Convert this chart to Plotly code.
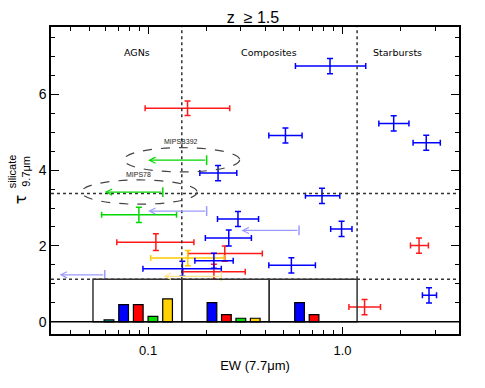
import numpy as np
import plotly.graph_objects as go

# ---------------- data ----------------
# detections: EW (7.7um), EW lower, EW upper, tau, tau error
blue_ew   = [0.863, 0.509, 1.836, 2.70, 0.785, 0.229, 0.290, 0.260, 0.990, 0.546, 0.218, 0.150, 2.79]
blue_lo   = [0.573, 0.418, 1.540, 2.31, 0.645, 0.1845, 0.2275, 0.197, 0.870, 0.418, 0.174, 0.094, 2.58]
blue_hi   = [1.318, 0.620, 2.200, 3.19, 0.969, 0.286, 0.370, 0.340, 1.120, 0.726, 0.274, 0.238, 3.05]
blue_tau  = [6.74, 4.91, 5.23, 4.72, 3.32, 3.92, 2.71, 2.21, 2.45, 1.49, 1.61, 1.40, 0.70]
blue_err  = [0.20, 0.20, 0.20, 0.20, 0.20, 0.20, 0.20, 0.21, 0.20, 0.20, 0.20, 0.20, 0.20]

red_ew  = [0.1595, 0.1096, 0.248, 0.218, 2.48, 1.30]
red_lo  = [0.0965, 0.069, 0.160, 0.151, 2.24, 1.08]
red_hi  = [0.263, 0.172, 0.387, 0.316, 2.77, 1.57]
red_tau = [5.63, 2.10, 1.80, 1.32, 2.01, 0.39]
red_err = [0.19, 0.22, 0.20, 0.20, 0.20, 0.20]

green_ew  = [0.0896]
green_lo  = [0.0576]
green_hi  = [0.140]
green_tau = [2.82]
green_err = [0.20]

yellow_ew  = [0.160]
yellow_lo  = [0.103]
yellow_hi  = [0.246]
yellow_tau = [1.68]
yellow_err = [0.20]

# upper limits in EW: limit value, arrow tip, tau, colour class
lim_ew    = [0.200, 0.119, 0.200, 0.598, 0.238, 0.0598]
lim_tip   = [0.100, 0.0598, 0.100, 0.302, 0.120, 0.035]
lim_tau   = [4.26, 3.42, 2.92, 2.41, 1.20, 1.24]
lim_class = ["green", "green", "lightblue", "lightblue", "lightyellow", "lightblue"]

# labelled sources (ellipses)
src_names = ["MIPSB392", "MIPS78"]
src_ew    = [0.149, 0.090]
src_tau   = [4.27, 3.42]

# class boundaries
ew_bounds   = [0.052, 0.149, 0.42, 1.19]
tau_split   = 3.38
tau_box     = 1.12
class_names = ["AGNs", "Composites", "Starbursts"]
class_x     = [0.0877, 0.418, 1.91]

# histogram fractions per class region (cyan, blue, red, green, yellow)
hist_colors = ["#00bcbc", "#0000ff", "#ff0000", "#00e000", "#ffd200"]
hist_agn  = [0.05, 0.455, 0.455, 0.147, 0.605]
hist_comp = [None, 0.508, 0.19, 0.095, 0.095]
hist_sb   = [None, 0.508, 0.19, None, None]

x_ticks = [0.1, 1.0]
x_ticktext = ["0.1", "1.0"]
x_minor = [0.04, 0.05, 0.06, 0.07, 0.08, 0.09, 0.2, 0.3, 0.4, 0.5, 0.6, 0.7, 0.8, 0.9, 2, 3]

# ---------------- figure ----------------
XR = [-1.5, 0.6]
YR = [-0.32, 7.77]
col = {"blue": "#0000ff", "red": "#ff1a1a", "green": "#00d800", "yellow": "#ffcc00",
       "lightblue": "#9a9aff", "lightyellow": "#ffe38a"}

W, H = 485, 388
ML, MT = 51, 27
PW, PH = 408, 307.5

fig = go.Figure()

def add_points(ew, lo, hi, tau, err, c):
    ew = np.array(ew); lo = np.array(lo); hi = np.array(hi)
    fig.add_trace(go.Scatter(
        x=ew, y=tau, mode="markers", marker=dict(size=1, color=c),
        error_x=dict(type="data", symmetric=False, array=hi - ew, arrayminus=ew - lo,
                     color=c, thickness=1.5, width=3),
        error_y=dict(type="data", array=err, color=c, thickness=1.5, width=3),
        showlegend=False, hoverinfo="skip"))

# histogram bars (on linear overlay axis in log units)
lb = np.log10(ew_bounds)
slot_frac = [0.18, 0.345, 0.51, 0.675, 0.84]
for k, h in enumerate([hist_agn, hist_comp, hist_sb]):
    w = lb[k + 1] - lb[k]
    for j, v in enumerate(h):
        if v is None:
            continue
        fig.add_trace(go.Bar(x=[lb[k] + slot_frac[j] * w], y=[v], width=0.05,
                             marker=dict(color=hist_colors[j], line=dict(color="black", width=1.2)),
                             xaxis="x2", yaxis="y", showlegend=False, hoverinfo="skip"))

add_points(red_ew, red_lo, red_hi, red_tau, red_err, col["red"])
add_points(yellow_ew, yellow_lo, yellow_hi, yellow_tau, yellow_err, col["yellow"])
add_points(green_ew, green_lo, green_hi, green_tau, green_err, col["green"])
add_points(blue_ew, blue_lo, blue_hi, blue_tau, blue_err, col["blue"])

# upper limits
annotations = []
for e, t, y, c in zip(lim_ew, lim_tip, lim_tau, lim_class):
    fig.add_trace(go.Scatter(x=[e], y=[y], mode="markers",
                             marker=dict(symbol="line-ns", size=7, line=dict(width=1.5, color=col[c])),
                             showlegend=False, hoverinfo="skip"))
    annotations.append(dict(x=np.log10(t), y=y, ax=np.log10(e), ay=y, xref="x", yref="y",
                            axref="x", ayref="y", text="", showarrow=True, arrowhead=5,
                            arrowsize=1.0, arrowwidth=1.2, arrowcolor=col[c]))

shapes = []
for b in [ew_bounds[1], ew_bounds[3]]:
    shapes.append(dict(type="line", xref="x2", yref="y", x0=np.log10(b), x1=np.log10(b),
                       y0=tau_box, y1=YR[1], line=dict(color="#333", width=1.5, dash="dot")))
for yv in [tau_split, tau_box]:
    shapes.append(dict(type="line", xref="x2", yref="y", x0=XR[0], x1=XR[1], y0=yv, y1=yv,
                       line=dict(color="#333", width=1.5, dash="dot")))
for k in range(3):
    shapes.append(dict(type="rect", xref="x2", yref="y", x0=lb[k], x1=lb[k + 1], y0=0, y1=tau_box,
                       line=dict(color="#333", width=1.5)))
shapes.append(dict(type="line", xref="x2", yref="y", x0=XR[0], x1=XR[1], y0=0, y1=0,
                   line=dict(color="black", width=1.5)))
for e, t in zip(src_ew, src_tau):
    le = np.log10(e)
    shapes.append(dict(type="circle", xref="x2", yref="y", x0=le - 0.298, x1=le + 0.298,
                       y0=t - 0.32, y1=t + 0.32, line=dict(color="#444", width=1.2, dash="dash")))
for n, e, t in zip(src_names, src_ew, src_tau):
    annotations.append(dict(x=np.log10(e) - 0.005, y=t + 0.47, xref="x", yref="y", text=n,
                            showarrow=False, font=dict(size=7, color="#222", family="Liberation Sans")))

for n, xv in zip(class_names, class_x):
    annotations.append(dict(x=np.log10(xv), y=7.11, xref="x", yref="y", text=n, showarrow=False,
                            font=dict(size=9.5, color="black", family="DejaVu Sans")))

# y axis title: tau with stacked super/subscripts (pixel targets)
def px2paper(px, py):
    return (px - ML) / PW, (MT + PH - py) / PH
tx, ty = px2paper(9, 200)
sx, sy = px2paper(3.5, 172)
bx, by = px2paper(18, 172)
annotations.append(dict(x=tx, y=ty, xref="paper", yref="paper", text="τ", textangle=-90,
                        showarrow=False, font=dict(size=16, family="DejaVu Sans", color="black")))
annotations.append(dict(x=sx, y=sy, xref="paper", yref="paper", text="silicate", textangle=-90,
                        showarrow=False, font=dict(size=11, family="Liberation Sans", color="black")))
annotations.append(dict(x=bx, y=by, xref="paper", yref="paper", text="9.7μm", textangle=-90,
                        showarrow=False, font=dict(size=11, family="Liberation Sans", color="black")))

fig.update_layout(
    width=W, height=H,
    margin=dict(l=ML, r=W - ML - PW, t=MT, b=H - MT - PH),
    paper_bgcolor="white", plot_bgcolor="white",
    barmode="overlay",
    title=dict(text="z  ≥ 1.5", x=253 / W, xanchor="center", y=1 - 17 / H, yanchor="middle",
               font=dict(size=16, family="Liberation Sans", color="black")),
    xaxis=dict(type="log", range=XR, tickmode="array", tickvals=x_ticks, ticktext=x_ticktext,
               ticks="inside", ticklen=7, tickwidth=1, tickcolor="black", ticklabelstandoff=4,
               minor=dict(tickmode="array", tickvals=x_minor, ticks="inside", ticklen=4,
                          tickcolor="black", tickwidth=1),
               showline=True, linecolor="black", linewidth=1.5, mirror="ticks",
               showgrid=False, zeroline=False,
               tickfont=dict(size=13, family="Liberation Sans", color="black"),
               title=dict(text="EW (7.7μm)", standoff=4,
                          font=dict(size=13, family="Liberation Sans", color="black"))),
    xaxis2=dict(overlaying="x", range=XR, visible=False, showgrid=False, zeroline=False),
    yaxis=dict(range=YR, tick0=0, dtick=2, ticks="inside", ticklen=8, tickwidth=1,
               tickcolor="black",
               minor=dict(dtick=0.5, tick0=0, ticks="inside", ticklen=4, tickcolor="black", tickwidth=1),
               showline=True, linecolor="black", linewidth=1.5, mirror="ticks",
               showgrid=False, zeroline=False,
               tickfont=dict(size=14, family="Liberation Sans", color="black")),
    shapes=shapes, annotations=annotations,
)

fig.write_html("out.html", config={"displayModeBar": False},
               post_script="document.body.style.margin='0px';")
